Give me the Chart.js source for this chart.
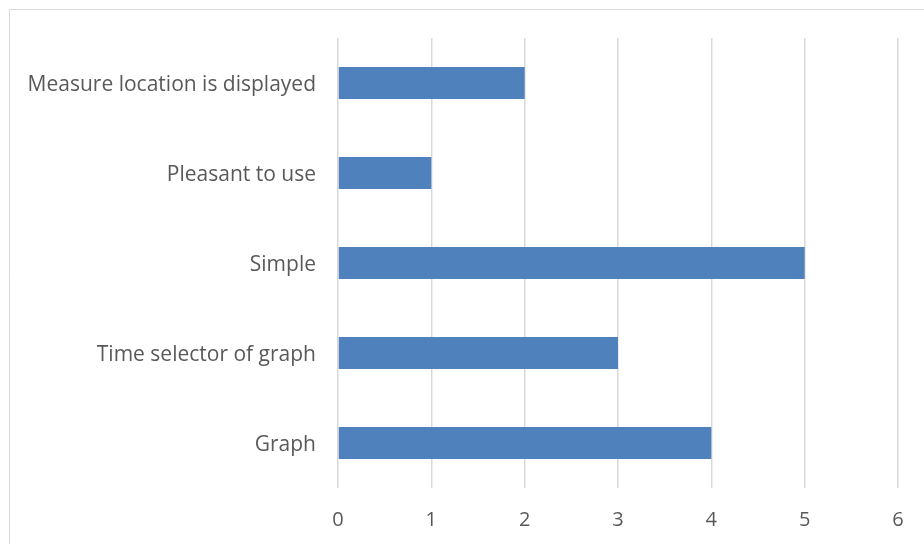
<!DOCTYPE html>
<html>
<head>
<meta charset="utf-8">
<script src="https://cdn.jsdelivr.net/npm/chart.js@4/dist/chart.umd.min.js"></script>
<style>
  html, body { margin: 0; padding: 0; background: #ffffff; }
  #wrap { width: 924px; height: 544px; position: relative; }
</style>
</head>
<body>
<div id="wrap"><canvas id="c" width="924" height="544"></canvas></div>
<script>
const categories = [
  "Measure location is displayed",
  "Pleasant to use",
  "Simple",
  "Time selector of graph",
  "Graph"
];
const counts = [2, 1, 5, 3, 4];
const axisMin = 0;
const axisMax = 6;

// Light outer frame along the top and left edges of the chart area
const framePlugin = {
  id: 'frame',
  beforeDraw(chart) {
    const ctx = chart.ctx;
    ctx.save();
    ctx.strokeStyle = '#d9d9d9';
    ctx.lineWidth = 1;
    ctx.beginPath();
    ctx.moveTo(9.5, chart.height);
    ctx.lineTo(9.5, 9.5);
    ctx.lineTo(chart.width, 9.5);
    ctx.stroke();
    ctx.restore();
  }
};

new Chart(document.getElementById('c'), {
  type: 'bar',
  data: {
    labels: categories,
    datasets: [{
      data: counts,
      backgroundColor: '#4f81bd',
      borderWidth: 0,
      categoryPercentage: 0.4,
      barPercentage: 0.89
    }]
  },
  plugins: [framePlugin],
  options: {
    indexAxis: 'y',
    responsive: false,
    animation: false,
    layout: { padding: { left: 10, top: 38, right: 26, bottom: 0 } },
    plugins: { legend: { display: false }, tooltip: { enabled: false } },
    scales: {
      x: {
        min: axisMin,
        max: axisMax,
        ticks: {
          stepSize: 1,
          color: '#595959',
          font: { family: 'Open Sans', size: 20 },
          padding: 20
        },
        grid: { color: '#d9d9d9', lineWidth: 1.5, drawTicks: false },
        border: { display: false },
        afterFit(scale) { scale.height = 56; }
      },
      y: {
        ticks: {
          color: '#595959',
          font: { family: 'Open Sans', size: 21 },
          padding: 22,
          labelOffset: 2
        },
        grid: { display: false, drawTicks: false },
        border: { display: false },
        afterFit(scale) { scale.width = 328; }
      }
    }
  }
});
</script>
</body>
</html>
